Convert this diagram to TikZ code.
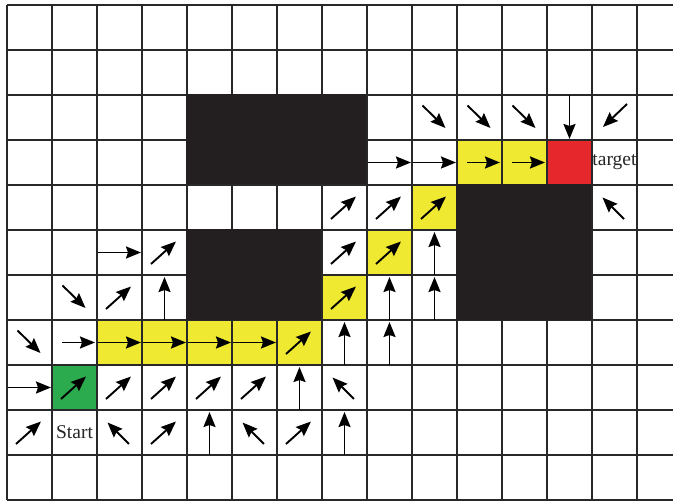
\documentclass[tikz,border=0pt]{standalone}
\usepackage{fontspec}
\setmainfont{Liberation Serif}
\usetikzlibrary{arrows.meta}
\definecolor{pathyellow}{RGB}{240,233,50}
\definecolor{startgreen}{RGB}{44,170,78}
\definecolor{goalred}{RGB}{230,40,45}
\definecolor{obst}{RGB}{35,31,32}
\definecolor{gridc}{RGB}{40,40,40}
% arrows: #1 = column, #2 = row
\newcommand\arRfull[2]{\draw[arr] ({7+45*#1+1},{5+45*#2+22.5}) -- ++(43,0);}
\newcommand\arRshort[2]{\draw[arr] ({7+45*#1+10},{5+45*#2+22.5}) -- ++(33,0);}
\newcommand\arUfull[2]{\draw[arr] ({7+45*#1+22.5},{5+45*#2+45}) -- ++(0,-43);}
\newcommand\arDfull[2]{\draw[arr] ({7+45*#1+22.5},{5+45*#2}) -- ++(0,44);}
\newcommand\arNE[2]{\draw[arr] ({7+45*#1+9},{5+45*#2+34}) -- ++(25,-22.5);}
\newcommand\arSE[2]{\draw[arr] ({7+45*#1+10.5},{5+45*#2+10.5}) -- ++(23,22.5);}
\newcommand\arNW[2]{\draw[arr] ({7+45*#1+32},{5+45*#2+34}) -- ++(-21.5,-21.5);}
\newcommand\arSW[2]{\draw[arr] ({7+45*#1+35},{5+45*#2+9}) -- ++(-24,23);}
\newcommand\cellfill[3]{\fill[#1] ({7+45*#2},{5+45*#3}) rectangle ++(45,45);}
\begin{document}
\begin{tikzpicture}[x=1pt,y=-1pt,
  gridline/.style={line width=1.9pt, draw=gridc},
  arr/.style={line width=1.9pt, draw=black, -{Stealth[length=15pt,width=12pt,inset=2pt]}},
  lbl/.style={font=\fontsize{19.5}{20}\selectfont, text=black!85, inner sep=0pt}]
\useasboundingbox (0,0) rectangle (673,502);
\fill[white] (0,0) rectangle (673,502);
% coloured cells
\foreach \c in {2,...,6} {\cellfill{pathyellow}{\c}{7}}
\cellfill{pathyellow}{7}{6}
\cellfill{pathyellow}{8}{5}
\cellfill{pathyellow}{9}{4}
\cellfill{pathyellow}{10}{3}
\cellfill{pathyellow}{11}{3}
\cellfill{goalred}{12}{3}
\cellfill{startgreen}{1}{8}
% grid
\foreach \r in {0,...,11} {\draw[gridline] (7,{5+45*\r}) -- (673,{5+45*\r});}
\foreach \c in {0,...,14} {\draw[gridline] ({7+45*\c},5) -- ({7+45*\c},500);}
% obstacles
\fill[obst] (186,94) rectangle (366,184);
\fill[obst] (186,229) rectangle (321,320);
\fill[obst] (456,184) rectangle (591,320);
% row 2
\arSE{9}{2}\arSE{10}{2}\arSE{11}{2}\arDfull{12}{2}\arSW{13}{2}
% row 3
\arRfull{8}{3}\arRfull{9}{3}\arRshort{10}{3}\arRshort{11}{3}
\node[lbl] (target) at (614.5,162) {target};
% row 4
\arNE{7}{4}\arNE{8}{4}\arNE{9}{4}\arNW{13}{4}
% row 5
\arRfull{2}{5}\arNE{3}{5}\arNE{7}{5}\arNE{8}{5}\arUfull{9}{5}
% row 6
\arSE{1}{6}\arNE{2}{6}\arUfull{3}{6}\arNE{7}{6}\arUfull{8}{6}\arUfull{9}{6}
% row 7
\arSE{0}{7}\arRshort{1}{7}
\foreach \c in {2,...,5} {\arRfull{\c}{7}}
\arNE{6}{7}\arUfull{7}{7}\arUfull{8}{7}
% row 8
\arRfull{0}{8}
\foreach \c in {1,...,5} {\arNE{\c}{8}}
\arUfull{6}{8}\arNW{7}{8}
% row 9
\arNE{0}{9}
\node[lbl] (start) at (74.5,432) {Start};
\arNW{2}{9}\arNE{3}{9}\arUfull{4}{9}\arNW{5}{9}\arNE{6}{9}\arUfull{7}{9}
\end{tikzpicture}
\end{document}
